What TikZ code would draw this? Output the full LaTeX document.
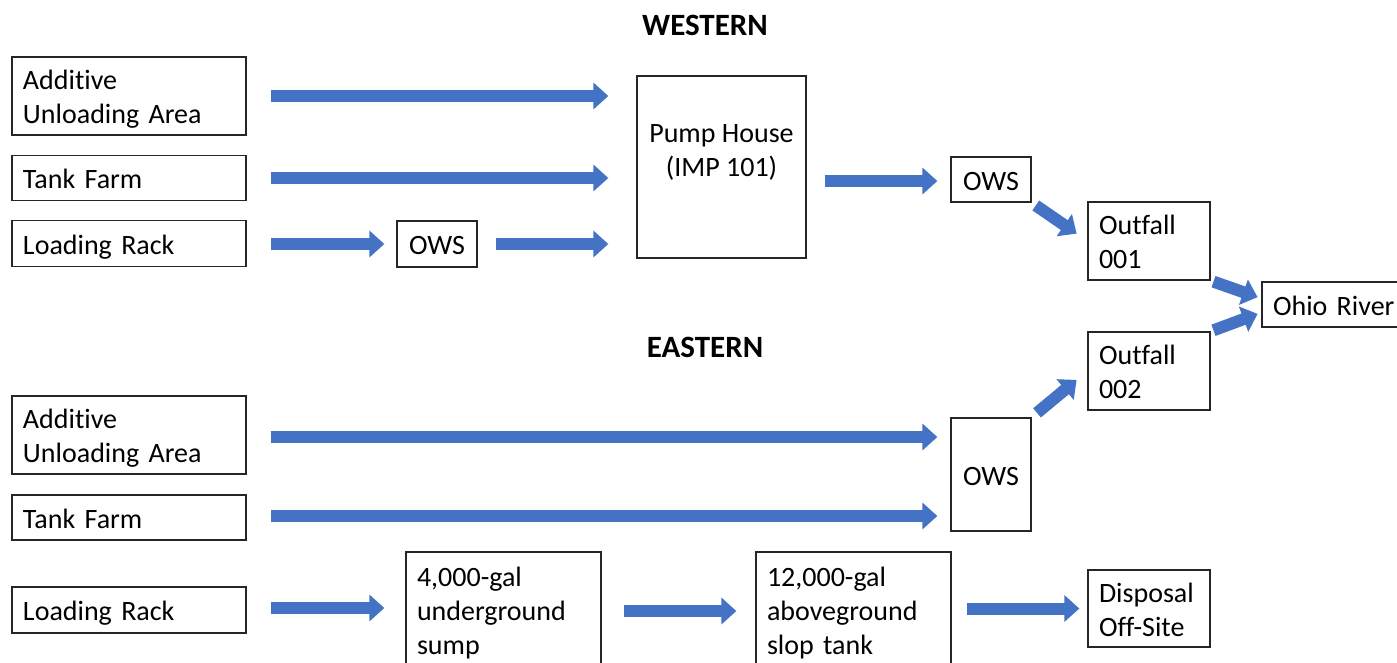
\documentclass[tikz,border=0pt]{standalone}
\usepackage{fontspec}
\setmainfont{Carlito}[Ligatures=NoCommon]
\usetikzlibrary{arrows.meta,calc}
\definecolor{arrowblue}{HTML}{4472C4}
\definecolor{boxline}{HTML}{262626}
\newcommand\topstrut{\rule{0pt}{31pt}}
\newcommand\botstrut{\rule[-9.5pt]{0pt}{9.5pt}}
\begin{document}
\begin{tikzpicture}[x=1pt,y=-1pt,
  box/.style={draw=boxline, line width=1.3pt, inner xsep=11pt, inner ysep=0pt,
    font=\fontsize{28}{34}\selectfont, text=black,
    execute at begin node=\topstrut, execute at end node=\botstrut},
  lbox/.style={box, align=left},
  cbox/.style={box, align=center},
  ttl/.style={font=\fontsize{31}{36}\selectfont\bfseries, inner sep=0pt},
  barrow/.style={draw=arrowblue, line width=12pt, -{Triangle[width=26pt,length=15pt]}}
]
\clip (0,0) rectangle (1397,662);
\fill[white] (0,0) rectangle (1397,662);

% titles
\node[ttl] (west) at (705,25) {WESTERN};
\node[ttl] (east) at (705,347) {EASTERN};

% western boxes
\node[lbox, text width=212pt, minimum height=78pt] (wadd) at (129,96) {Additive\\Unloading Area};
\node[lbox, text width=212pt, minimum height=45pt] (wtank) at (129,178) {Tank Farm};
\node[lbox, text width=212pt, minimum height=46pt] (wrack) at (129,243.5) {Loading Rack};
\node[cbox, minimum width=80pt, minimum height=46pt, inner xsep=0pt] (wows2) at (437,244) {OWS};
\node[cbox, minimum width=169pt, minimum height=182pt] (pump) at (721.5,167) {};
\node[align=center, font=\fontsize{28}{34}\selectfont, inner sep=0pt,
  execute at begin node=\topstrut, execute at end node=\botstrut] (pumptxt) at (721.5,155) {Pump House\\(IMP 101)};
\node[cbox, minimum width=80pt, minimum height=45pt, inner xsep=0pt] (wows) at (991,179.5) {OWS};
\node[lbox, text width=100pt, minimum height=78pt] (out1) at (1149,241) {Outfall\\001};
\node[lbox, text width=128pt, minimum height=45pt] (ohio) at (1337,304.5) {Ohio River};
\node[lbox, text width=100pt, minimum height=78pt] (out2) at (1149,371) {Outfall\\002};

% eastern boxes
\node[lbox, text width=212pt, minimum height=78pt] (eadd) at (129,435) {Additive\\Unloading Area};
\node[lbox, text width=212pt, minimum height=45pt] (etank) at (129,517.5) {Tank Farm};
\node[lbox, text width=212pt, minimum height=46pt] (erack) at (129,610) {Loading Rack};
\node[cbox, minimum width=80pt, minimum height=113pt, inner xsep=0pt] (eows) at (991,474.5) {OWS};
\node[lbox, text width=173pt, minimum height=116pt] (sump) at (503.5,610) {4,000-gal\\underground\\sump};
\node[lbox, text width=173pt, minimum height=116pt] (slop) at (853.5,610) {12,000-gal\\aboveground\\slop tank};
\node[lbox, text width=100pt, minimum height=77pt] (disp) at (1149,608.5) {Disposal\\Off-Site};

% western arrows
\draw[barrow, shorten <=24pt, shorten >=28pt] (wadd.east) -- (wadd.east -| pump.west);
\draw[barrow, shorten <=24pt, shorten >=28pt] (wtank.east) -- (wtank.east -| pump.west);
\draw[barrow, shorten <=24pt, shorten >=12pt] (wows2.west -| wrack.east) -- (wows2.west);
\draw[barrow, shorten <=18pt, shorten >=28pt] (wows2.east) -- (wows2.east -| pump.west);
\draw[barrow, shorten <=18pt, shorten >=13pt] ([yshift=-1.5pt]wows.west -| pump.east) -- ([yshift=-1.5pt]wows.west);
\draw[barrow, shorten <=5pt, shorten >=13pt] (wows.south east) -- (out1.west);
\draw[barrow, shorten <=3pt, shorten >=4pt] (out1.south east) -- ([yshift=6pt]ohio.west);
\draw[barrow, shorten <=3pt, shorten >=4pt] (out2.north east) -- ([yshift=-8pt]ohio.west);

% eastern arrows
\draw[barrow, shorten <=7pt, shorten >=14pt] (eows.north east) -- (out2.west);
\draw[barrow, shorten <=24pt, shorten >=13pt] ([yshift=-2pt]eadd.east) -- ([yshift=-2pt]eadd.east -| eows.west);
\draw[barrow, shorten <=24pt, shorten >=13pt] ([yshift=1.5pt]etank.east) -- ([yshift=1.5pt]etank.east -| eows.west);
\draw[barrow, shorten <=24pt, shorten >=21pt] ([yshift=2pt]erack.east) -- ([yshift=2pt]erack.east -| sump.west);
\draw[barrow, shorten <=22pt, shorten >=19pt] ([yshift=-1pt]sump.east) -- ([yshift=-1pt]slop.west);
\draw[barrow, shorten <=15pt, shorten >=8pt] ([yshift=1.5pt]slop.east -| slop.east) -- ([yshift=1.5pt]slop.east -| disp.west);
\end{tikzpicture}
\end{document}
